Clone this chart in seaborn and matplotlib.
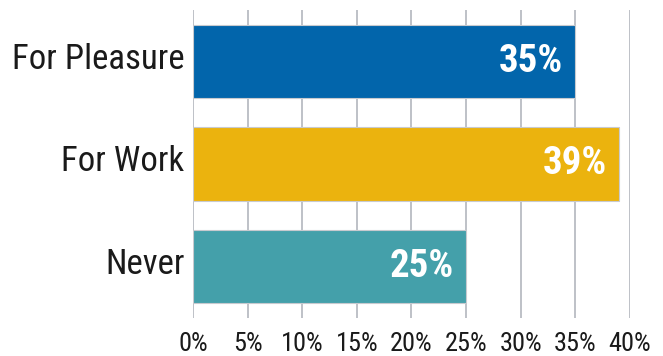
import matplotlib
matplotlib.use("Agg")
import matplotlib.pyplot as plt
import matplotlib.transforms as mtransforms
import seaborn as sns
import pandas as pd
from matplotlib.ticker import MultipleLocator, FuncFormatter

categories = ["For Pleasure", "For Work", "Never"]
values = [35, 39, 25]
colors = ["#0265AB", "#EBB30E", "#44A0AA"]

df = pd.DataFrame({"category": categories, "value": values})

sns.set_style("white")
plt.rcParams["font.family"] = ["Roboto Condensed", "DejaVu Sans"]

fig = plt.figure(figsize=(6.63, 3.56), dpi=100)
ax = fig.add_axes([0.291, 0.107, 0.659, 0.865])

sns.barplot(data=df, y="category", x="value", hue="category",
            palette=colors, saturation=1, orient="h", width=0.716,
            legend=False, edgecolor="#c8cacf", linewidth=0.8, ax=ax, zorder=3)

ax.set_xlim(0, 40)
ax.set_ylim(2.5, -0.5)
ax.xaxis.set_major_locator(MultipleLocator(5))
ax.xaxis.set_major_formatter(FuncFormatter(lambda v, p: f"{int(v)}%"))
ax.grid(axis="x", color="#b3b6be", linewidth=1.2, zorder=0)
ax.grid(axis="y", visible=False)
for s in ax.spines.values():
    s.set_visible(False)

ax.set_xlabel("")
ax.set_ylabel("")
ax.tick_params(axis="x", length=0, pad=10, labelsize=19, labelcolor="#1a1a1a")
ax.tick_params(axis="y", length=0, pad=6, labelsize=25, labelcolor="#1a1a1a")

# nudge category labels slightly upward
lift = mtransforms.ScaledTranslation(0, 4 / 72, fig.dpi_scale_trans)
for lbl in ax.get_yticklabels():
    lbl.set_transform(lbl.get_transform() + lift)

for i, v in enumerate(values):
    ax.text(v - 1.1, i, f"{v}%", ha="right", va="center", color="white",
            fontsize=28, fontweight="bold", zorder=4)

fig.savefig("out.png", dpi=100)
